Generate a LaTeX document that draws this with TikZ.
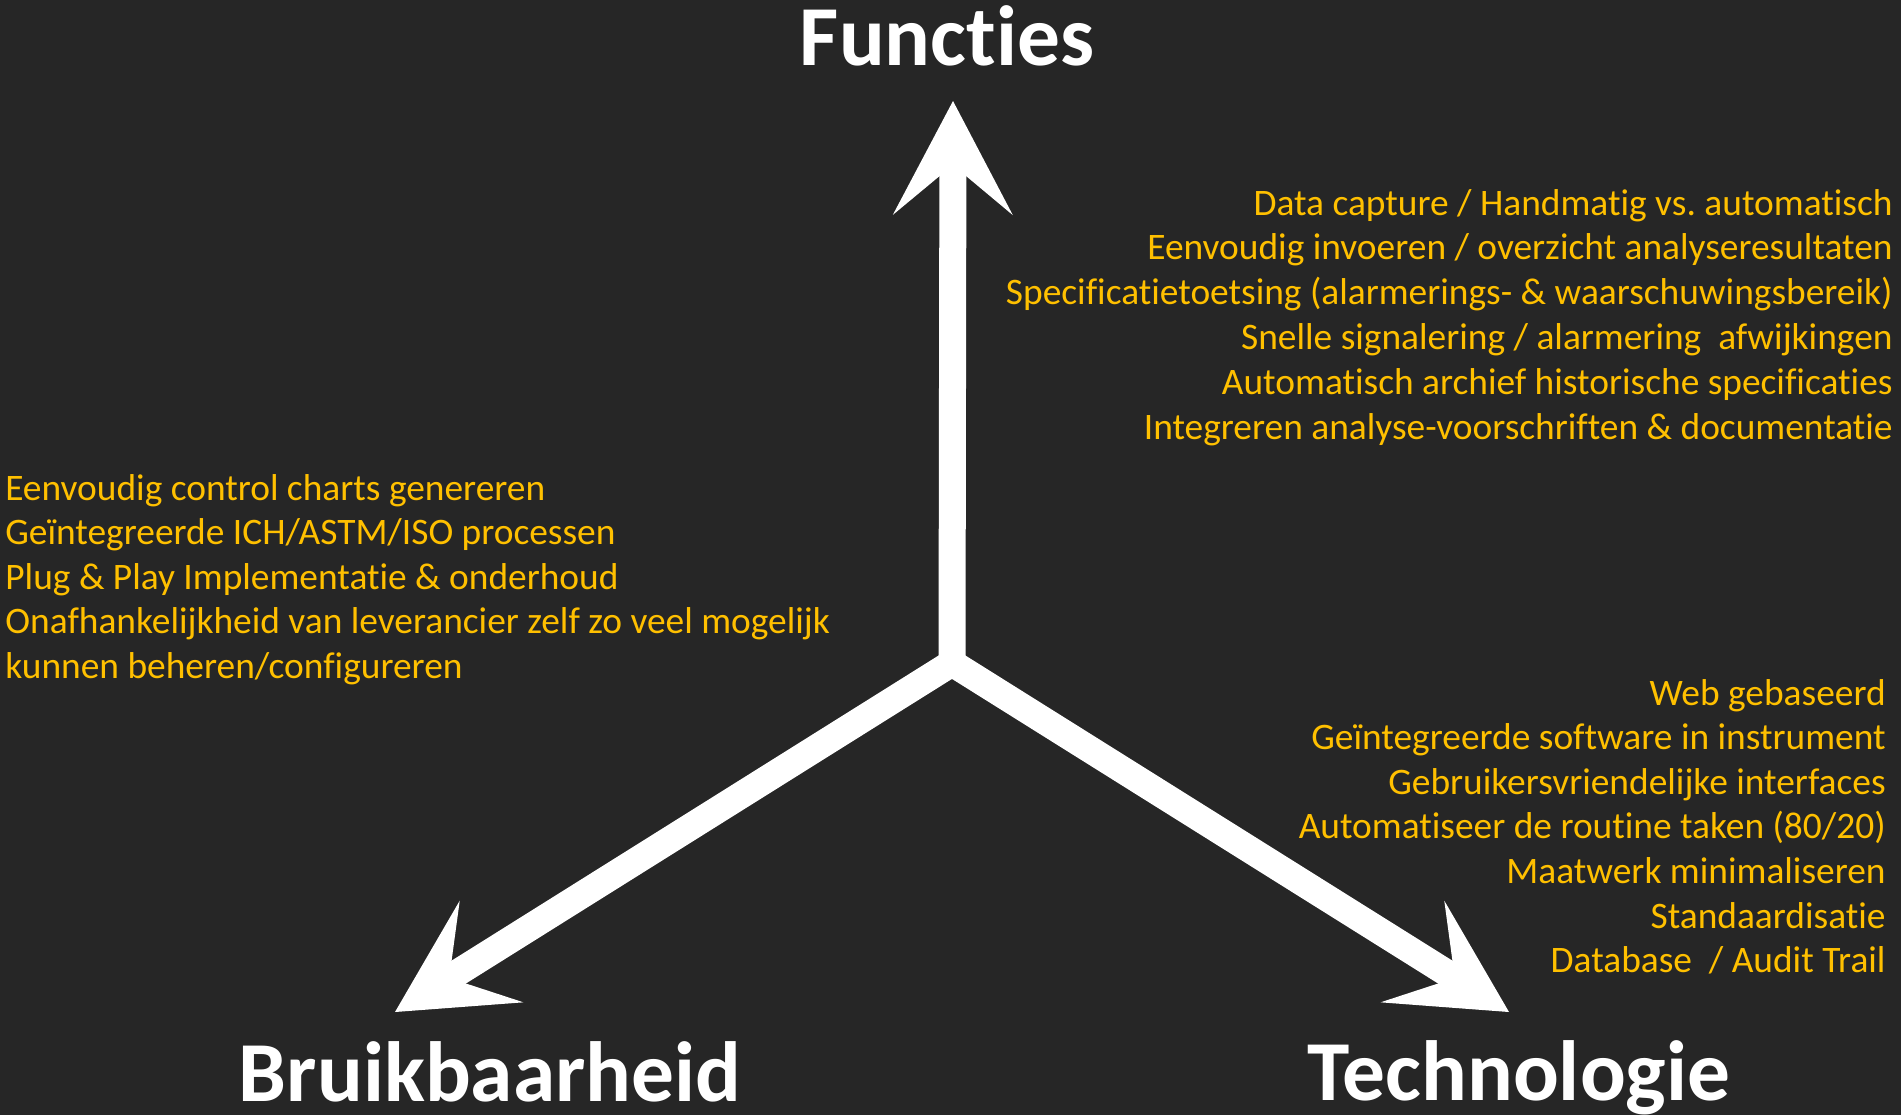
\documentclass[tikz,border=0pt]{standalone}
\usepackage{fontspec}
\setmainfont{Carlito}[Ligatures=NoCommon]
\frenchspacing
\usetikzlibrary{arrows.meta}
\definecolor{slidebg}{RGB}{38,38,38}
\definecolor{gold}{RGB}{255,192,0}
\tikzset{
  axisarrow/.style={white, line width=13.5pt, line cap=round,
    -{Stealth[length=57pt,width=60pt,inset=25pt,line width=0pt]}},
  point/.style={text=gold, font=\fontsize{18.7}{23}\selectfont, inner sep=0pt},
  title/.style={text=white, font=\fontsize{42.7}{50}\selectfont\bfseries, inner sep=0pt}
}
\begin{document}
\begin{tikzpicture}[x=0.5pt,y=0.5pt]
\fill[slidebg] (0,0) rectangle (1901,-1115);
\useasboundingbox (0,0) rectangle (1901,-1115);
\coordinate (hub) at (952,-663);
\coordinate (fun) at (953,-101);
\coordinate (bru) at (395,-1012);
\coordinate (tec) at (1509,-1012);
\draw[axisarrow] (hub) -- (fun);
\draw[axisarrow] (hub) -- (bru);
\draw[axisarrow] (hub) -- (tec);
\node[title, anchor=base] (funtitle) at (947,-65) {Functies};
\node[title, anchor=base] (brutitle) at (490,-1101) {Bruikbaarheid};
\node[title, anchor=base] (tectitle) at (1519,-1100) {Technologie};
\foreach \txt [count=\i] in {Data capture / Handmatig vs. automatisch,
  Eenvoudig invoeren / overzicht analyseresultaten,
  Specificatietoetsing (alarmerings- \& waarschuwingsbereik),
  Snelle signalering / alarmering~ afwijkingen,
  Automatisch archief historische specificaties,
  Integreren analyse-voorschriften \& documentatie}
  \node[point, anchor=base east] (funpt\i) at (1893,{-215-44.8*(\i-1)}) {\txt};
\foreach \txt [count=\i] in {Eenvoudig control charts genereren,
  Geïntegreerde ICH/ASTM/ISO processen,
  Plug \& Play Implementatie \& onderhoud,
  Onafhankelijkheid van leverancier zelf zo veel mogelijk,
  kunnen beheren/configureren}
  \node[point, anchor=base west] (brupt\i) at (5,{-500-44.6*(\i-1)}) {\txt};
\foreach \txt [count=\i] in {Web gebaseerd,
  Geïntegreerde software in instrument,
  Gebruikersvriendelijke interfaces,
  Automatiseer de routine taken (80/20),
  Maatwerk minimaliseren,
  Standaardisatie,
  Database~ / Audit Trail}
  \node[point, anchor=base east] (tecpt\i) at (1886,{-705-44.6*(\i-1)}) {\txt};
\end{tikzpicture}
\end{document}
